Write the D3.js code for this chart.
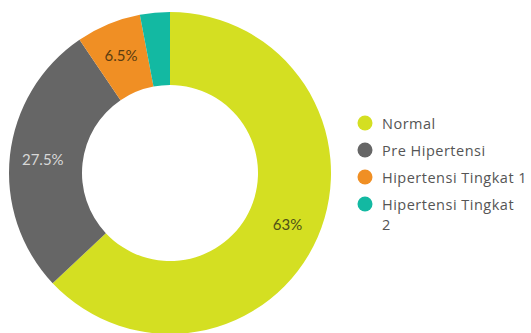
<!DOCTYPE html>
<html>
<head>
<meta charset="utf-8">
<script src="https://cdn.jsdelivr.net/npm/d3@7"></script>
<style>
  html, body { margin: 0; padding: 0; background: #ffffff; overflow: hidden; }
  svg { display: block; }
</style>
</head>
<body>
<svg id="chart" width="531" height="333"></svg>
<script>
const categories = ["Normal", "Pre Hipertensi", "Hipertensi Tingkat 1", "Hipertensi Tingkat 2"];
const values = [63, 27.5, 6.5, 3];
const labels = ["63%", "27.5%", "6.5%", ""];
const colors = ["#d4df22", "#666666", "#f08f24", "#13b9a2"];
const labelColors = ["#4e5016", "#d8d8d8", "#5a3c10", "#ffffff"];
const legendLines = [["Normal"], ["Pre Hipertensi"], ["Hipertensi Tingkat 1"], ["Hipertensi Tingkat", "2"]];

const svg = d3.select("#chart");
const cx = 170, cy = 173, rOuter = 161, rInner = 88;

const pie = d3.pie().sort(null).value(d => d)(values);
const arc = d3.arc().innerRadius(rInner).outerRadius(rOuter);
const labelArc = d3.arc().innerRadius(rInner + 40).outerRadius(rInner + 40);

const g = svg.append("g").attr("transform", `translate(${cx},${cy})`);
g.selectAll("path").data(pie).join("path")
  .attr("d", arc)
  .attr("fill", (d, i) => colors[i]);

g.selectAll("text").data(pie).join("text")
  .attr("transform", d => `translate(${labelArc.centroid(d)})`)
  .attr("text-anchor", "middle")
  .attr("dominant-baseline", "central")
  .attr("font-family", "Lato, sans-serif")
  .attr("font-size", 15)
  .attr("fill", (d, i) => labelColors[i])
  .text((d, i) => labels[i]);

const rowY = d3.scalePoint().domain(categories).range([123, 204]);
const leg = svg.append("g");
const items = leg.selectAll("g").data(categories).join("g")
  .attr("transform", d => `translate(365,${rowY(d)})`);
items.append("circle").attr("r", 7.5).attr("fill", (d, i) => colors[i]);
items.append("text")
  .attr("x", 17)
  .attr("dominant-baseline", "central")
  .attr("font-family", "'Open Sans', sans-serif")
  .attr("font-size", 14.5)
  .attr("letter-spacing", 0.5)
  .attr("fill", "#555555")
  .selectAll("tspan").data((d, i) => legendLines[i]).join("tspan")
  .attr("x", 17)
  .attr("dy", (t, j) => j === 0 ? 0 : 20)
  .text(t => t);
</script>
</body>
</html>
